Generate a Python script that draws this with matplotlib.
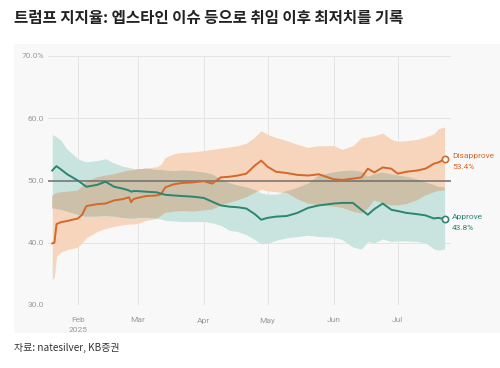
import numpy as np
import pandas as pd
import matplotlib
matplotlib.use("Agg")
import matplotlib.pyplot as plt
import matplotlib.dates as mdates
from matplotlib.patches import Rectangle

plt.rcParams['font.family'] = ['Noto Sans CJK KR', 'DejaVu Sans']

# 날짜 (2025)
dates = ["01-20", "01-21", "01-22", "01-24", "01-27", "02-01", "02-03", "02-05", "02-10", "02-14",
         "02-18", "02-22", "02-25", "02-26", "02-27", "03-01", "03-05", "03-10", "03-12", "03-14",
         "03-18", "03-22", "03-27", "04-01", "04-05", "04-09", "04-13", "04-17", "04-21", "04-25",
         "04-28", "05-01", "05-05", "05-10", "05-15", "05-20", "05-25", "06-01", "06-05", "06-10",
         "06-14", "06-17", "06-20", "06-24", "06-28", "07-01", "07-05", "07-10", "07-14", "07-18",
         "07-20", "07-23"]

approve = [51.6, 52.0, 52.3, 51.8, 51.0, 50.0, 49.5, 49.0, 49.3, 49.8,
           49.0, 48.7, 48.4, 48.2, 48.3, 48.3, 48.2, 48.1, 47.9, 47.7,
           47.6, 47.5, 47.4, 47.2, 46.6, 46.0, 45.8, 45.7, 45.5, 44.6,
           43.7, 44.0, 44.2, 44.3, 44.8, 45.6, 46.0, 46.3, 46.4, 46.4,
           45.3, 44.5, 45.4, 46.3, 45.3, 45.1, 44.8, 44.6, 44.4, 43.9,
           44.0, 43.8]
approve_lo = [45.5, 45.5, 45.4, 45.3, 45.0, 44.5, 44.3, 44.2, 44.2, 44.3,
              44.2, 44.0, 43.9, 43.9, 43.9, 44.0, 44.0, 43.9, 43.8, 43.6,
              43.5, 43.4, 43.4, 43.4, 43.2, 42.8, 42.0, 41.8, 41.3, 40.5,
              39.8, 39.9, 40.4, 40.8, 41.0, 41.2, 41.0, 40.9, 40.5, 39.3,
              39.0, 40.2, 40.0, 40.6, 40.2, 40.3, 40.3, 40.2, 40.0, 39.0,
              38.8, 39.0]
approve_hi = [57.4, 57.2, 57.0, 56.5, 55.0, 53.5, 53.2, 53.0, 53.2, 53.5,
              52.8, 52.3, 52.1, 52.0, 51.9, 51.8, 51.9, 51.7, 51.7, 51.6,
              51.5, 51.6, 51.5, 51.3, 51.0, 50.2, 49.6, 49.2, 48.9, 48.5,
              48.0, 47.8, 47.8, 48.3, 48.8, 49.5, 50.8, 51.3, 51.5, 51.6,
              51.4, 50.6, 51.0, 51.3, 51.0, 50.8, 50.6, 50.2, 49.7, 49.3,
              49.0, 48.9]

disapprove = [39.9, 40.0, 43.0, 43.3, 43.5, 43.9, 44.5, 45.9, 46.2, 46.3,
              46.8, 47.0, 47.3, 46.5, 47.0, 47.2, 47.5, 47.6, 47.8, 48.9,
              49.4, 49.6, 49.7, 49.9, 49.5, 50.5, 50.6, 50.8, 51.1, 52.4,
              53.2, 52.2, 51.4, 51.2, 50.9, 50.8, 51.0, 50.2, 50.1, 50.3,
              50.5, 51.9, 51.3, 52.1, 51.9, 51.1, 51.4, 51.6, 51.9, 52.7,
              52.9, 53.4]
disapprove_lo = [34.0, 34.5, 37.8, 38.5, 38.9, 39.3, 40.0, 40.8, 41.8, 42.3,
                 42.6, 42.9, 43.0, 43.0, 43.0, 43.1, 43.6, 43.9, 44.3, 44.8,
                 45.0, 45.1, 45.0, 45.2, 45.3, 46.0, 46.4, 46.8, 47.3, 48.0,
                 48.6, 48.3, 48.2, 48.0, 47.0, 46.3, 46.0, 45.8, 45.6, 45.0,
                 44.7, 45.5, 46.8, 46.3, 46.0, 46.0, 46.2, 46.8, 47.6, 48.1,
                 48.3, 48.4]
disapprove_hi = [47.5, 47.8, 48.0, 48.1, 48.2, 48.4, 49.0, 49.8, 50.5, 50.8,
                 51.0, 51.4, 51.6, 51.6, 51.7, 51.8, 52.0, 52.2, 52.6, 53.7,
                 54.3, 54.5, 54.6, 54.8, 55.0, 55.2, 55.4, 55.6, 56.0, 57.0,
                 58.0, 57.4, 56.9, 56.4, 55.8, 55.3, 55.6, 55.6, 55.0, 55.6,
                 56.9, 57.0, 57.2, 57.6, 56.6, 56.3, 56.4, 56.6, 57.0, 57.5,
                 58.3, 58.6]

x = pd.to_datetime(["2025-" + d for d in dates])
approve = np.array(approve); approve_lo = np.array(approve_lo); approve_hi = np.array(approve_hi)
disapprove = np.array(disapprove); disapprove_lo = np.array(disapprove_lo); disapprove_hi = np.array(disapprove_hi)

ORANGE = '#d2692a'
TEAL = '#2b8571'
NARROW = ['Roboto', 'DejaVu Sans']

fig = plt.figure(figsize=(5.0, 3.68), dpi=100)
fig.patches.append(Rectangle((14/500, 1-333/368), 486/500, 289/368, transform=fig.transFigure,
                             facecolor='#f8f8f8', edgecolor='none', zorder=-10))

ax = fig.add_axes([48/500, 1-305/368, 403/500, 249/368])
ax.set_facecolor('none')

# 밴드
ax.fill_between(x, disapprove_lo, disapprove_hi, color='#f7d5bd', lw=0, zorder=1)
ax.fill_between(x, approve_lo, approve_hi, color='#c9e4de', lw=0, zorder=1)
ov_lo = np.maximum(approve_lo, disapprove_lo)
ov_hi = np.minimum(approve_hi, disapprove_hi)
ax.fill_between(x, ov_lo, ov_hi, where=ov_hi > ov_lo, interpolate=True,
                color='#cdc0a8', lw=0, zorder=2)

ax.axhline(50, color='#6e6e6e', lw=1.1, zorder=3)

ax.plot(x, disapprove, color=ORANGE, lw=1.4, zorder=4)
ax.plot(x, approve, color=TEAL, lw=1.4, zorder=4)
ax.plot(x[-1], disapprove[-1], 'o', ms=4.5, mfc='white', mec=ORANGE, mew=1.2, zorder=5, clip_on=False)
ax.plot(x[-1], approve[-1], 'o', ms=4.5, mfc='white', mec=TEAL, mew=1.2, zorder=5, clip_on=False)

ax.set_ylim(30, 70)
ax.set_xlim(pd.Timestamp('2025-01-18'), pd.Timestamp('2025-07-26'))
ax.set_yticks([30, 40, 50, 60, 70])
ax.set_yticklabels(['30.0', '40.0', '50.0', '60.0', '70.0%'])
ax.xaxis.set_major_locator(mdates.MonthLocator(bymonth=[2, 3, 4, 5, 6, 7]))
ax.set_xticklabels(['Feb\n2025', 'Mar', 'Apr', 'May', 'Jun', 'Jul'])
ax.grid(True, color='#e4e4e4', lw=0.7, zorder=0)
ax.set_axisbelow(True)
for s in ax.spines.values():
    s.set_visible(False)
ax.tick_params(axis='y', length=0, labelsize=6, labelcolor='#9a9a9a', pad=3)
ax.tick_params(axis='x', length=0, labelsize=6, labelcolor='#9a9a9a', pad=9)
for lab in ax.get_xticklabels() + ax.get_yticklabels():
    lab.set_family(NARROW)
ax.get_xticklabels()[0].set_linespacing(1.7)

ytr = ax.get_yaxis_transform()
ax.text(1.003, disapprove[-1] + 0.6, 'Disapprove', transform=ytr,
        color=ORANGE, fontsize=6, family=NARROW, va='center', ha='left')
ax.text(1.003, disapprove[-1] - 1.3, '%.1f%%' % disapprove[-1], transform=ytr,
        color=ORANGE, fontsize=6, family=NARROW, va='center', ha='left')
ax.text(1.003, approve[-1] + 0.4, 'Approve', transform=ytr,
        color=TEAL, fontsize=6, family=NARROW, va='center', ha='left')
ax.text(1.003, approve[-1] - 1.5, '%.1f%%' % approve[-1], transform=ytr,
        color=TEAL, fontsize=6, family=NARROW, va='center', ha='left')

fig.text(14/500, 1-18/368, '트럼프 지지율: 엡스타인 이슈 등으로 취임 이후 최저치를 기록',
         fontsize=11.2, fontweight='bold', color='#222222', va='center', ha='left')
fig.text(14/500, 1-348/368, '자료: natesilver, KB증권', fontsize=7.2, color='#333333',
         va='center', ha='left')

fig.savefig('out.png', dpi=100)
